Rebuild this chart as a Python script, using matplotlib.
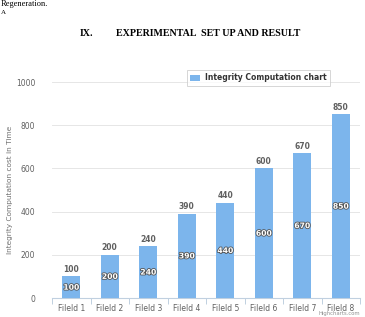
import matplotlib
matplotlib.use("Agg")
import matplotlib.pyplot as plt
import matplotlib.patheffects as pe

categories = ["Fileld 1", "Fileld 2", "Fileld 3", "Fileld 4", "Fileld 5", "Fileld 6", "Fileld 7", "Fileld 8"]
values = [100, 200, 240, 390, 440, 600, 670, 850]
series_name = "Integrity Computation chart"
yticks = [0, 200, 400, 600, 800, 1000]

W, H = 365, 317
fig = plt.figure(figsize=(W / 100, H / 100), dpi=100)
fig.patch.set_facecolor("white")

ax = fig.add_axes([52 / W, 19 / H, 308 / W, 216 / H])
x = list(range(len(categories)))
bars = ax.bar(x, values, width=0.47, color="#7cb5ec", label=series_name, zorder=3)

ax.set_xlim(-0.5, len(categories) - 0.5)
ax.set_ylim(0, 1000)
ax.set_yticks(yticks)
ax.set_yticklabels([str(v) for v in yticks], fontsize=5.5, color="#606060")
ax.set_xticks(x)
ax.set_xticklabels(categories, fontsize=5.5, color="#606060")
ax.tick_params(axis="y", length=0, pad=12)
ax.tick_params(axis="x", length=0, pad=4)
# category boundary ticks
ax.set_xticks([i - 0.5 for i in range(len(categories) + 1)], minor=True)
ax.tick_params(axis="x", which="minor", length=4, color="#c0d0e0", width=0.7)

ax.grid(axis="y", color="#e6e6e6", linewidth=0.7, zorder=0)
for s in ["top", "right", "left"]:
    ax.spines[s].set_visible(False)
ax.spines["bottom"].set_color("#c0d0e0")
ax.spines["bottom"].set_linewidth(0.8)

for xi, v in zip(x, values):
    ax.text(xi, v + 12, str(v), ha="center", va="bottom", fontsize=5.5,
            fontweight="bold", color="#606060")
    ax.text(xi, v / 2, str(v), ha="center", va="center", fontsize=5.5,
            fontweight="bold", color="white",
            path_effects=[pe.withStroke(linewidth=1.2, foreground="#555555")])

fig.text(10 / W, 1 - 190 / H, "Integrity Computation cost in Time", fontsize=5.3, color="#707070",
         rotation=90, ha="center", va="center")

leg = ax.legend(loc="upper left", bbox_to_anchor=(135 / 308, 1 + 12 / 216), frameon=True,
                fancybox=False, fontsize=5.5, handlelength=1.3, handleheight=0.8,
                borderpad=0.45, handletextpad=0.6, borderaxespad=0)
leg.get_frame().set_edgecolor("#cccccc")
leg.get_frame().set_linewidth(0.7)
for t in leg.get_texts():
    t.set_fontweight("bold")
    t.set_color("#333333")

fig.text(360 / W, 0.5 / H, "Highcharts.com", fontsize=3.8, color="#909090", va="bottom", ha="right")

serif = "Liberation Serif"
fig.text(80 / W, 1 - 34 / H, "IX.", fontsize=7.2, fontweight="bold", family=serif, va="center", ha="left")
fig.text(116 / W, 1 - 34 / H, "EXPERIMENTAL  SET UP AND RESULT", fontsize=7.2, fontweight="bold",
         family=serif, va="center", ha="left")
fig.text(1 / W, 1 - 4 / H, "Regeneration.", fontsize=6, family=serif, va="center", ha="left")
fig.text(1 / W, 1 - 12 / H, "A", fontsize=5, family=serif, va="center", ha="left")

fig.savefig("out.png", dpi=100, facecolor="white")
